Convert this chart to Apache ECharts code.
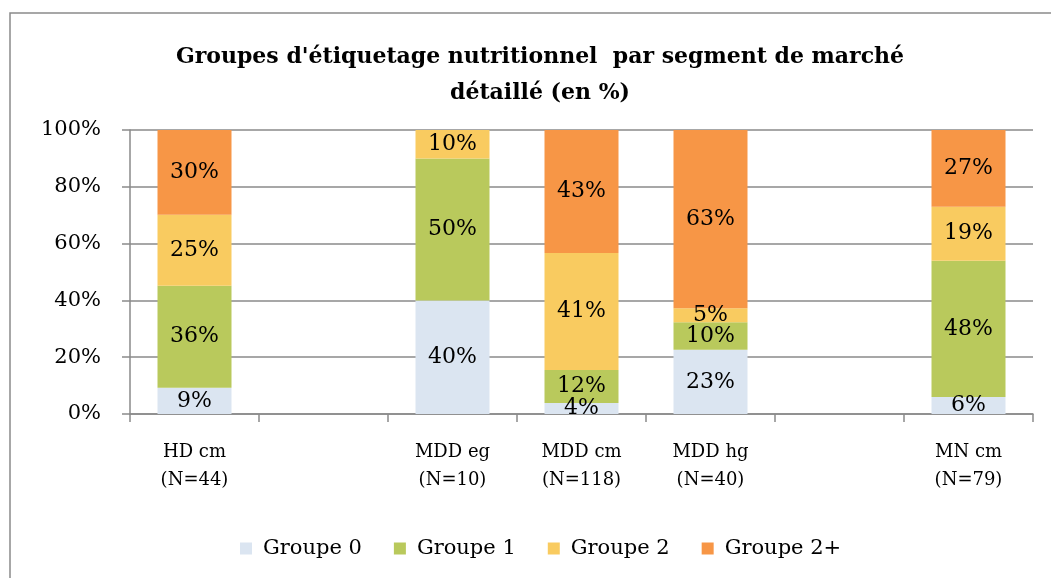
<!DOCTYPE html>
<html>
<head>
<meta charset="utf-8">
<script src="https://cdn.jsdelivr.net/npm/echarts@6/dist/echarts.min.js"></script>
<style>
html, body { margin: 0; padding: 0; background: #fff; }
#main { width: 1051px; height: 578px; }
</style>
</head>
<body>
<div id="main"></div>
<script>
var categories = ['HD cm\n(N=44)', '', 'MDD eg\n(N=10)', 'MDD cm\n(N=118)', 'MDD hg\n(N=40)', '', 'MN cm\n(N=79)'];
var groupNames = ['Groupe 0', 'Groupe 1', 'Groupe 2', 'Groupe 2+'];
var groupe0 = [9.2, null, 40, 3.9, 22.6, null, 6];
var groupe1 = [36, null, 50, 11.6, 9.7, null, 48];
var groupe2 = [25, null, 10, 41.2, 4.9, null, 19];
var groupe2p = [29.8, null, 0, 43.3, 62.8, null, 27];
var colors = ['#dbe5f1', '#b9c95c', '#f9cb60', '#f79646'];

var myChart = echarts.init(document.getElementById('main'));
var serif = "'DejaVu Serif', 'Liberation Serif', serif";
var grey = '#8a8a8a';

function makeSeries(name, values, color) {
    return {
        name: name,
        type: 'bar',
        stack: 'total',
        barWidth: 74,
        data: values,
        itemStyle: { color: color },
        label: {
            show: true,
            position: 'inside',
            color: '#000',
            fontFamily: serif,
            fontSize: 22,
            formatter: function (p) {
                if (!p.value) return '';
                return Math.round(p.value) + '%';
            }
        }
    };
}

var option = {
    backgroundColor: '#fff',
    animation: false,
    title: {
        text: "Groupes d'étiquetage nutritionnel  par segment de marché\ndétaillé (en %)",
        left: 535,
        textAlign: 'center',
        top: 34,
        textStyle: {
            fontFamily: serif,
            fontWeight: 'bold',
            fontSize: 22,
            lineHeight: 36,
            color: '#000'
        }
    },
    graphic: [{
        type: 'rect',
        shape: { x: 10, y: 13, width: 1060, height: 600 },
        style: { fill: 'none', stroke: grey, lineWidth: 1.5 },
        silent: true
    }],
    legend: {
        bottom: 14,
        left: 235,
        itemWidth: 12,
        itemHeight: 12,
        itemGap: 32,
        icon: 'rect',
        textStyle: { fontFamily: serif, fontSize: 21, color: '#000', padding: [0, 0, 0, 6] },
        data: groupNames
    },
    grid: { left: 130, right: 18, top: 130, bottom: 164 },
    xAxis: {
        type: 'category',
        data: categories,
        axisLine: { lineStyle: { color: grey, width: 1.5 } },
        axisTick: { show: true, length: 8, lineStyle: { color: grey, width: 1.5 } },
        axisLabel: {
            color: '#000',
            fontFamily: serif,
            fontSize: 18,
            lineHeight: 28,
            margin: 24,
            interval: 0
        }
    },
    yAxis: {
        type: 'value',
        min: 0,
        max: 100,
        interval: 20,
        axisLine: { show: true, lineStyle: { color: grey, width: 1.5 } },
        axisTick: { show: true, length: 8, lineStyle: { color: grey, width: 1.5 } },
        splitLine: { lineStyle: { color: grey, width: 1.5 } },
        axisLabel: {
            color: '#000',
            fontFamily: serif,
            fontSize: 21,
            margin: 29,
            formatter: '{value}%'
        }
    },
    series: [
        makeSeries(groupNames[0], groupe0, colors[0]),
        makeSeries(groupNames[1], groupe1, colors[1]),
        makeSeries(groupNames[2], groupe2, colors[2]),
        makeSeries(groupNames[3], groupe2p, colors[3])
    ]
};

myChart.setOption(option);
</script>
</body>
</html>
